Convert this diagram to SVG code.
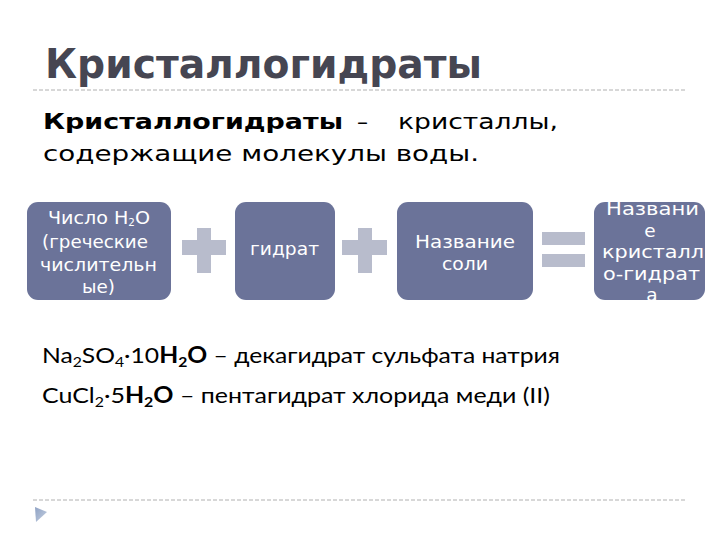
<svg xmlns="http://www.w3.org/2000/svg" width="720" height="540" viewBox="0 0 720 540">
<style>
.title{font-family:"DejaVu Sans","Liberation Sans",sans-serif;font-weight:bold;font-size:41px;fill:#464652}
.sub{font-family:"DejaVu Sans","Liberation Sans",sans-serif;font-size:22px;fill:#000}
.b{font-weight:bold}
.box{fill:#6b7399}
.bt{font-family:"DejaVu Sans","Liberation Sans",sans-serif;font-size:18.5px;fill:#fff;text-anchor:middle}
.op{fill:#b8bccc}
.f{font-family:Lato,"Liberation Sans",sans-serif;font-size:22px;fill:#000}
.dash{stroke:#b0b0b0;stroke-width:1;stroke-dasharray:4 2;fill:none}
</style>
<defs>
<linearGradient id="tri" x1="0" y1="0" x2="1" y2="1">
<stop offset="0" stop-color="#8fa2c4"/>
<stop offset="1" stop-color="#c4cfe0"/>
</linearGradient>
</defs>
<rect width="720" height="540" fill="#fff"/>
<text class="title" x="45" y="78" textLength="437" lengthAdjust="spacingAndGlyphs">Кристаллогидраты</text>
<line class="dash" x1="33" y1="90" x2="686" y2="90"/>
<text class="sub" x="43" y="129"><tspan class="b" textLength="300" lengthAdjust="spacingAndGlyphs">Кристаллогидраты</tspan><tspan x="357">–</tspan><tspan x="398" textLength="160" lengthAdjust="spacingAndGlyphs">кристаллы,</tspan></text>
<text class="sub" x="43" y="161" textLength="436" lengthAdjust="spacingAndGlyphs">содержащие молекулы воды.</text>
<g id="node-chislo">
<rect class="box" x="27" y="202" width="144" height="98" rx="11"/>
<text class="bt" x="99" y="224" textLength="102" lengthAdjust="spacingAndGlyphs">Число H<tspan font-size="10" dy="2">2</tspan><tspan dy="-2">O</tspan></text>
<text class="bt" x="95" y="248" textLength="106" lengthAdjust="spacingAndGlyphs">(греческие</text>
<text class="bt" x="98.5" y="271" textLength="117" lengthAdjust="spacingAndGlyphs">числительн</text>
<text class="bt" x="98.5" y="293" textLength="33" lengthAdjust="spacingAndGlyphs">ые)</text>
</g>
<g id="node-gidrat">
<rect class="box" x="235" y="202" width="100" height="98" rx="11"/>
<text class="bt" x="284.5" y="255" textLength="69" lengthAdjust="spacingAndGlyphs">гидрат</text>
</g>
<g id="node-soli">
<rect class="box" x="397" y="202" width="136" height="98" rx="11"/>
<text class="bt" x="465" y="248" textLength="100" lengthAdjust="spacingAndGlyphs">Название</text>
<text class="bt" x="465" y="270" textLength="46" lengthAdjust="spacingAndGlyphs">соли</text>
</g>
<g id="node-result">
<rect class="box" x="594" y="202" width="111" height="98" rx="11"/>
<text class="bt" x="652.5" y="215" textLength="93" lengthAdjust="spacingAndGlyphs">Названи</text>
<text class="bt" x="650" y="237">е</text>
<text class="bt" x="653" y="258" textLength="102" lengthAdjust="spacingAndGlyphs">кристалл</text>
<text class="bt" x="651.5" y="280" textLength="97" lengthAdjust="spacingAndGlyphs">о-гидрат</text>
<text class="bt" x="652" y="301">а</text>
</g>
<g id="connectors">
<rect class="op" x="182" y="240" width="44" height="15"/>
<rect class="op" x="197" y="228" width="14" height="45"/>
<rect class="op" x="342" y="240" width="45" height="15"/>
<rect class="op" x="358" y="228" width="14" height="45"/>
<rect class="op" x="542" y="232" width="43" height="13"/>
<rect class="op" x="542" y="254" width="43" height="13"/>
</g>
<text class="f" x="42" y="363" textLength="518" lengthAdjust="spacingAndGlyphs">Na<tspan font-size="14" dy="4">2</tspan><tspan dy="-4">SO</tspan><tspan font-size="14" dy="4">4</tspan><tspan dy="-4">·10</tspan><tspan class="b">H</tspan><tspan class="b" font-size="14" dy="4">2</tspan><tspan class="b" dy="-4">O</tspan> – декагидрат сульфата натрия</text>
<text class="f" x="42" y="403" textLength="508" lengthAdjust="spacingAndGlyphs">CuCl<tspan font-size="14" dy="4">2</tspan><tspan dy="-4">·5</tspan><tspan class="b">H</tspan><tspan class="b" font-size="14" dy="4">2</tspan><tspan class="b" dy="-4">O</tspan> – пентагидрат хлорида меди (II)</text>
<line class="dash" x1="33" y1="500" x2="686" y2="500"/>
<polygon points="35,507 47,512 36,522" fill="url(#tri)"/>
</svg>
